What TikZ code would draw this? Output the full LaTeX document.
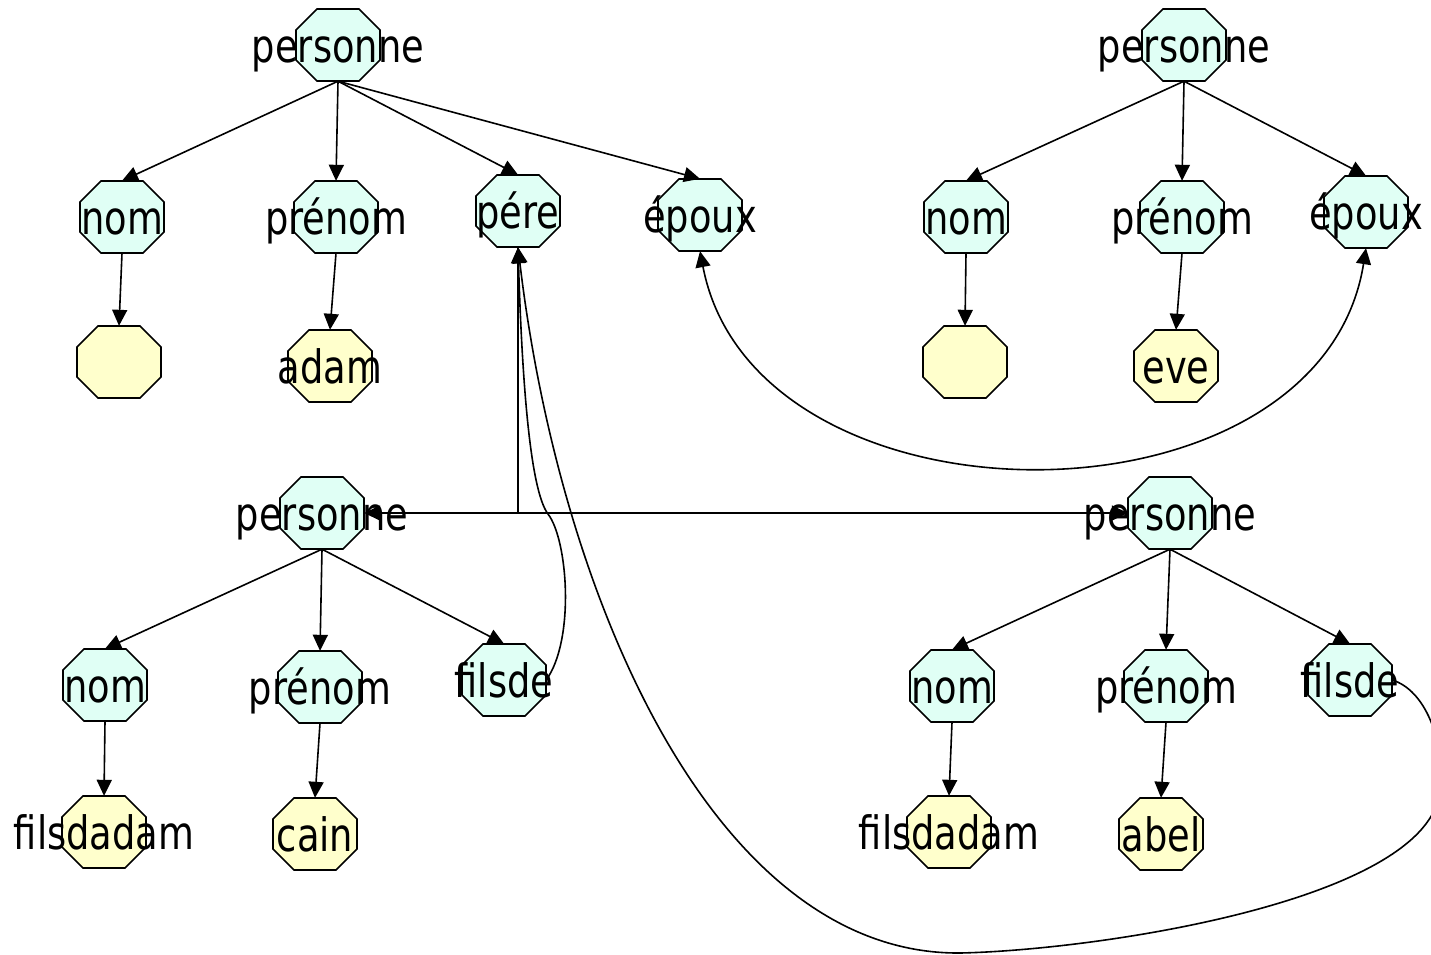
\documentclass[tikz,border=0pt]{standalone}
\usepackage{fontspec}
\newfontfamily\labfont[FakeStretch=0.80]{DejaVu Sans}
\usetikzlibrary{arrows.meta,calc}
\definecolor{octcyan}{RGB}{224,255,245}
\definecolor{octyellow}{RGB}{255,255,204}
\tikzset{
  cyanoct/.style={draw=black, line width=1.7pt, fill=octcyan},
  yellowoct/.style={draw=black, line width=1.7pt, fill=octyellow},
  octbox/.style={rectangle, draw=none, minimum width=84pt, minimum height=72pt, inner sep=0pt},
  octlabel/.style={anchor=base, inner sep=0pt, font=\labfont\fontsize{46}{46}\selectfont},
  conn/.style={draw, line width=1.6pt, -{Triangle[length=16pt,width=15pt]}},
  conn2/.style={draw, line width=1.6pt, {Triangle[length=16pt,width=15pt]}-{Triangle[length=16pt,width=15pt]}}
}
\newcommand\octnode[5]{%
  \path[#4, shift={(#2,#3)}] (-21,-36) -- (21,-36) -- (42,-15) -- (42,15) -- (21,36) -- (-21,36) -- (-42,15) -- (-42,-15) -- cycle;
  \node[octbox] (#1) at (#2,#3) {};
  \node[octlabel] (#1-t) at (#2,#3+17) {#5};
}
\begin{document}
\begin{tikzpicture}[x=1pt,y=-1pt]
\useasboundingbox (0,0) rectangle (1431,954);
% top left
\octnode{p1}{338}{45}{cyanoct}{personne}
\octnode{n1}{122}{217}{cyanoct}{nom}
\octnode{pr1}{336}{217}{cyanoct}{prénom}
\octnode{pe1}{518}{211}{cyanoct}{pére}
\octnode{ep1}{700}{215}{cyanoct}{époux}
\octnode{y1}{119}{362}{yellowoct}{}
\octnode{ad}{330}{366}{yellowoct}{adam}
% top right
\octnode{p2}{1184}{45}{cyanoct}{personne}
\octnode{n2}{966}{217}{cyanoct}{nom}
\octnode{pr2}{1182}{217}{cyanoct}{prénom}
\octnode{ep2}{1366}{212}{cyanoct}{époux}
\octnode{y2}{965}{362}{yellowoct}{}
\octnode{ev}{1176}{366}{yellowoct}{eve}
% bottom left
\octnode{p3}{322}{513}{cyanoct}{personne}
\octnode{n3}{105}{685}{cyanoct}{nom}
\octnode{pr3}{320}{687}{cyanoct}{prénom}
\octnode{f3}{504}{680}{cyanoct}{filsde}
\octnode{fd3}{104}{832}{yellowoct}{filsdadam}
\octnode{ca}{315}{834}{yellowoct}{cain}
% bottom right
\octnode{p4}{1170}{513}{cyanoct}{personne}
\octnode{n4}{952}{686}{cyanoct}{nom}
\octnode{pr4}{1166}{686}{cyanoct}{prénom}
\octnode{f4}{1350}{680}{cyanoct}{filsde}
\octnode{fd4}{949}{832}{yellowoct}{filsdadam}
\octnode{ab}{1161}{834}{yellowoct}{abel}
% tree edges
\foreach \a/\b in {p1/n1,p1/pr1,p1/pe1,p1/ep1,n1/y1,pr1/ad,
                   p2/n2,p2/pr2,p2/ep2,n2/y2,pr2/ev,
                   p3/n3,p3/pr3,p3/f3,n3/fd3,pr3/ca,
                   p4/n4,p4/pr4,p4/f4,n4/fd4,pr4/ab}
  \path[conn] (\a.south) -- (\b.north);
% spouse link
\path[conn2] (ep1.south) .. controls (755,538) and (1320,538) .. (ep2.south);
% father links
\path[conn] (pe1.south) |- (p3.east);
\path[conn] (pe1.south) |- (p4.west);
% filsde links
\path[conn] (f3.east) .. controls (575,640) and (568,540) .. (548,514)
   .. controls (530,490) and (522,380) .. (pe1.south);
\path[conn] (f4.east) .. controls (1425,690) and (1445,740) .. (1440,790)
   .. controls (1430,900) and (1100,950) .. (960,953)
   .. controls (715,955) and (560,600) .. (pe1.south);
\end{tikzpicture}
\end{document}
